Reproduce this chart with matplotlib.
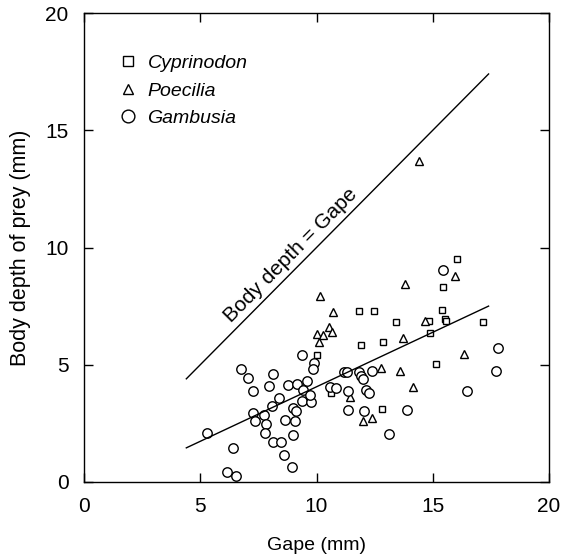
## Gape vs body depth of prey - scatter chart
import matplotlib
matplotlib.use("Agg")
import matplotlib.pyplot as plt
import numpy as np

plt.rcParams['font.family'] = ['Liberation Sans', 'DejaVu Sans']


## Data
# Cyprinodon (squares)
cyp_gape = [10.00, 10.61, 16.03, 15.45, 11.82, 12.46, 13.42, 14.82, 15.38, 15.52,
            15.56, 14.86, 11.93, 12.87, 15.14, 12.83, 17.14]
cyp_depth = [5.43, 3.80, 9.50, 8.33, 7.28, 7.28, 6.81, 6.87, 7.32, 6.94,
             6.88, 6.34, 5.86, 5.98, 5.02, 3.10, 6.84]

# Poecilia (triangles)
poe_gape = [14.40, 15.96, 13.82, 10.13, 10.70, 10.52, 10.68, 10.00, 10.30, 10.10,
            14.66, 13.73, 12.77, 13.60, 14.16, 11.46, 12.00, 12.37, 16.35]
poe_depth = [13.68, 8.78, 8.43, 7.95, 7.25, 6.61, 6.41, 6.32, 6.26, 5.96,
             6.88, 6.14, 4.85, 4.74, 4.03, 3.62, 2.62, 2.72, 5.47]

# Gambusia (circles)
gam_gape = [5.28, 6.42, 6.17, 6.55, 6.75, 7.07, 7.25, 7.28, 7.35, 7.72,
            7.82, 7.77, 8.12, 8.47, 8.58, 8.96, 8.98, 8.65, 9.08, 8.97,
            9.12, 8.08, 8.38, 7.96, 8.14, 8.79, 9.18, 9.58, 9.44, 9.39,
            9.77, 9.72, 9.37, 9.91, 9.85, 10.56, 10.85, 11.18, 11.32, 11.83,
            11.90, 12.01, 12.38, 11.37, 12.12, 12.26, 11.34, 12.03, 13.90, 13.13,
            15.44, 17.81, 17.73, 16.46]
gam_depth = [2.07, 1.46, 0.42, 0.25, 4.80, 4.42, 3.88, 2.93, 2.59, 2.87,
             2.47, 2.09, 1.72, 1.72, 1.16, 0.64, 2.02, 2.64, 2.58, 3.15,
             3.03, 3.22, 3.60, 4.10, 4.62, 4.15, 4.20, 4.29, 3.92, 3.47,
             3.42, 3.71, 5.43, 5.07, 4.80, 4.07, 4.00, 4.67, 4.67, 4.68,
             4.54, 4.40, 4.75, 3.90, 3.94, 3.81, 3.05, 3.01, 3.07, 2.05,
             9.04, 5.70, 4.72, 3.90]

# Fitted regression line and the body depth = gape line
fit_slope = 0.465
fit_intercept = -0.59
line_range = [4.4, 17.4]


## Figure
fig = plt.figure(figsize=(5.62, 5.56), dpi=100)
ax = fig.add_axes([0.1495, 0.1331, 0.8274, 0.8435])

mk = dict(linestyle='none', markerfacecolor='white', markeredgecolor='black',
          markeredgewidth=1.0)
ax.plot(cyp_gape, cyp_depth, marker='s', markersize=5.0, label='Cyprinodon', **mk)
ax.plot(poe_gape, poe_depth, marker='^', markersize=5.4, label='Poecilia', **mk)
ax.plot(gam_gape, gam_depth, marker='o', markersize=6.8, label='Gambusia', **mk)

# Lines
lx = np.array(line_range)
ax.plot(lx, fit_slope * lx + fit_intercept, color='black', linewidth=1.0)
ax.plot(lx, lx, color='black', linewidth=1.0)

ax.text(8.9, 9.65, 'Body depth = Gape', fontsize=15, rotation=45,
        rotation_mode='anchor', transform_rotates_text=True,
        ha='center', va='center')

# Axes settings
ax.set_xlim(0, 20)
ax.set_ylim(0, 20)
ax.set_xticks([0, 5, 10, 15, 20])
ax.set_yticks([0, 5, 10, 15, 20])
ax.tick_params(direction='in', length=6.5, width=1.0, top=True, right=True,
               labelsize=15, pad=11)
for s in ax.spines.values():
    s.set_linewidth(1.0)

ax.set_xlabel('Gape (mm)', fontsize=14, labelpad=15)
ax.set_ylabel('Body depth of prey (mm)', fontsize=15.5, labelpad=10)

leg = ax.legend(loc='upper left', bbox_to_anchor=(0.055, 0.932), frameon=False,
                prop={'size': 14, 'style': 'italic'}, handlelength=0.9,
                handletextpad=0.55, labelspacing=0.5, borderpad=0,
                markerscale=1.35)

fig.savefig('out.png', dpi=100)
